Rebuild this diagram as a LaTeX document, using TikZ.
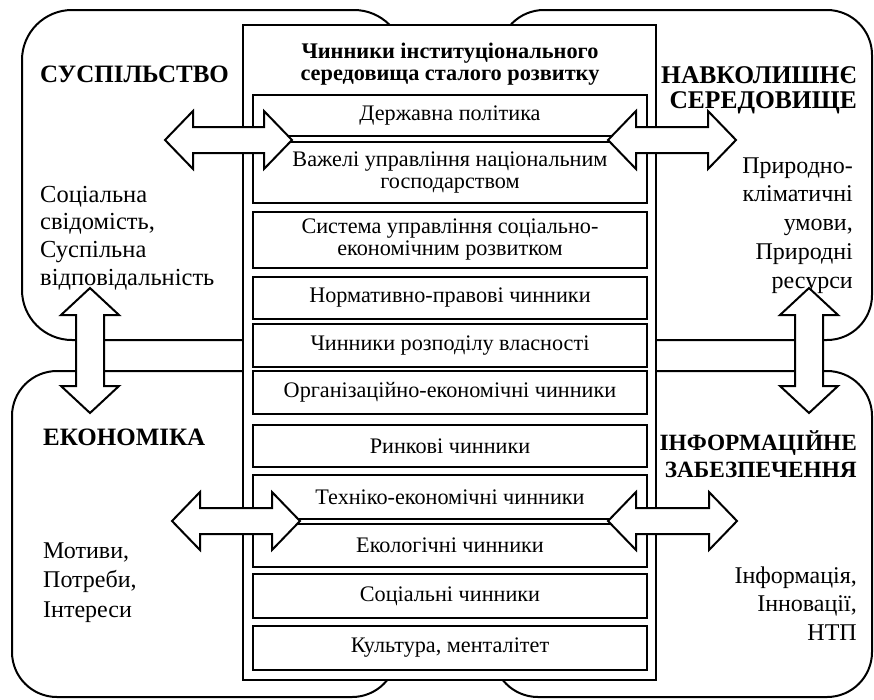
\documentclass[tikz,border=0pt]{standalone}
\usepackage{fontspec}
\setmainfont{Liberation Serif}
\begin{document}
\begin{tikzpicture}[x=1pt,y=-1pt,
  quad/.style={draw, line width=2pt},
  outerbox/.style={draw, line width=2.2pt, fill=white},
  fbox/.style={draw, line width=1.4pt, fill=white, minimum width=394pt, inner sep=0pt, align=center, font=\fontsize{22.2}{22}\selectfont},
  arrowshape/.style={draw, line width=2pt, fill=white, line join=miter},
  head/.style={font=\bfseries\fontsize{25}{25}\selectfont, inner sep=0pt},
  side/.style={font=\fontsize{24}{28.5}\selectfont, inner sep=0pt}]
\useasboundingbox (0,0) rectangle (874,699);
% quadrants
\draw[quad, rounded corners=50pt] (22,10) rectangle (404,340);
\draw[quad, rounded corners=45pt] (499,10) rectangle (872,340);
\draw[quad, rounded corners=45pt] (12,371) rectangle (397,697);
\draw[quad, rounded corners=45pt] (493,371) rectangle (872,697);
% central box
\node[outerbox, minimum width=413pt, minimum height=655pt, inner sep=0pt] (frame) at (449.5,352.5) {};
\node[font=\bfseries\fontsize{22.3}{22.5}\selectfont, align=center, inner sep=0pt, anchor=north] (title) at (450,58) {\smash{Чинники інституціонального}\\середовища сталого розвитку};
\node[fbox, minimum height=41pt] (b1) at (450,115.5) {Державна політика};
\node[fbox, minimum height=61pt] (b2) at (450,172.5) {Важелі управління національним\\господарством};
\node[fbox, minimum height=56pt] (b3) at (450,240) {Система управління соціально-\\економічним розвитком};
\node[fbox, minimum height=42pt] (b4) at (450,298) {Нормативно-правові чинники};
\node[fbox, minimum height=43pt] (b5) at (450,345.5) {Чинники розподілу власності};
\node[fbox, minimum height=43pt] (b6) at (450,392.5) {Організаційно-економічні чинники};
\node[fbox, minimum height=42pt] (b7) at (450,446) {Ринкові чинники};
\node[fbox, minimum height=44pt] (b8) at (450,497) {Техніко-економічні чинники};
\node[fbox, minimum height=43pt] (b9) at (450,545.5) {Екологічні чинники};
\node[fbox, minimum height=44pt] (b10) at (450,596) {Соціальні чинники};
\node[fbox, minimum height=44pt] (b11) at (450,648) {Культура, менталітет};
% side texts
\node[head, anchor=base west] (soc) at (40,82) {СУСПІЛЬСТВО};
\node[side, font=\fontsize{24.5}{27.7}\selectfont, anchor=north west, align=left] (soct) at (40,202) {\smash{Соціальна}\\свідомість,\\Суспільна\\відповідальність};
\node[head, font=\bfseries\fontsize{25.5}{25}\selectfont, anchor=north east, align=right] (env) at (857,83) {\smash{НАВКОЛИШНЄ}\\СЕРЕДОВИЩЕ};
\node[side, font=\fontsize{24}{28.7}\selectfont, anchor=north east, align=right] (envt) at (853,173) {\smash{Природно-}\\кліматичні\\умови,\\Природні\\ресурси};
\node[head, anchor=base west] (eco) at (43,445) {ЕКОНОМІКА};
\node[side, font=\fontsize{24}{29.5}\selectfont, anchor=north west, align=left] (ecot) at (43,558) {\smash{Мотиви,}\\Потреби,\\Інтереси};
\node[head, font=\bfseries\fontsize{23.3}{27}\selectfont, anchor=north east, align=right] (inf) at (857,450) {\smash{ІНФОРМАЦІЙНЕ}\\ЗАБЕЗПЕЧЕННЯ};
\node[side, anchor=north east, align=right] (inft) at (857,583) {\smash{Інформація,}\\Інновації,\\НТП};
% horizontal double arrows
\foreach \xa/\xb/\c in {165/292/140, 608/736/140, 172/300/521, 608/737/521}{
  \draw[arrowshape] (\xa,\c) -- ({\xa+28},{\c-29}) -- ({\xa+28},{\c-13}) -- ({\xb-28},{\c-13}) -- ({\xb-28},{\c-29}) -- (\xb,\c) -- ({\xb-28},{\c+29}) -- ({\xb-28},{\c+13}) -- ({\xa+28},{\c+13}) -- ({\xa+28},{\c+29}) -- cycle;
}
% vertical double arrows
\foreach \x in {90, 809}{
  \draw[arrowshape] (\x,288) -- ({\x-29},315) -- ({\x-14},315) -- ({\x-14},386) -- ({\x-29},386) -- (\x,413) -- ({\x+29},386) -- ({\x+14},386) -- ({\x+14},315) -- ({\x+29},315) -- cycle;
}
\end{tikzpicture}
\end{document}
